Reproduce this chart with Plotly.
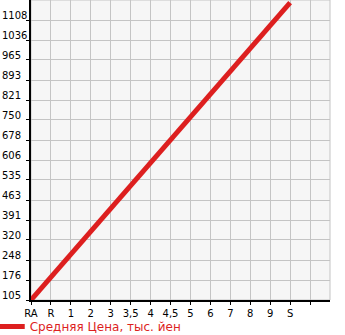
import plotly.graph_objects as go

categories = ["RA", "R", "1", "2", "3", "3,5", "4", "4,5", "5", "6", "7", "8", "9", "S", ""]
avg_price = [105, None, None, None, None, None, None, None, None, None, None, None, None, 1170, None]
y_tick_labels = ["105", "176", "248", "320", "391", "463", "535", "606", "678", "750",
                 "821", "893", "965", "1036", "1108"]
series_name = "Средняя Цена, тыс. йен"

y_tick_vals = [float(t) for t in y_tick_labels]
y_step = (y_tick_vals[-1] - y_tick_vals[0]) / (len(y_tick_vals) - 1)
x_idx = list(range(len(categories)))

fig = go.Figure()
fig.add_trace(go.Scatter(
    x=x_idx, y=avg_price, mode="lines", name=series_name,
    connectgaps=True, line=dict(color="#dd1f1f", width=5), showlegend=True,
))

font = dict(family="DejaVu Sans", size=10, color="#000000")

fig.update_layout(
    width=345, height=335,
    margin=dict(l=31, r=15, t=0, b=35, autoexpand=False),
    paper_bgcolor="#ffffff", plot_bgcolor="#f6f6f6",
    showlegend=True,
    legend=dict(orientation="h", x=-0.138, y=-0.04, xanchor="left", yanchor="top",
                font=dict(family="DejaVu Sans", size=12, color="#dd1f1f"),
                itemwidth=30, bgcolor="rgba(0,0,0,0)"),
    xaxis=dict(range=[0, len(categories)], tickvals=x_idx, ticktext=categories,
               showgrid=True, gridcolor="#c4c4c4", gridwidth=1,
               showline=True, linecolor="#000000", linewidth=2,
               ticks="outside", ticklen=3, tickcolor="#000000", tickfont=font,
               zeroline=False, fixedrange=True, automargin=False),
    yaxis=dict(range=[y_tick_vals[0], y_tick_vals[0] + y_step * len(y_tick_vals)],
               tickvals=y_tick_vals, ticktext=[""] * len(y_tick_vals),
               showgrid=True, gridcolor="#c4c4c4", gridwidth=1,
               showline=True, linecolor="#000000", linewidth=2,
               ticks="outside", ticklen=3, tickcolor="#000000",
               zeroline=False, fixedrange=True, automargin=False),
    shapes=[dict(type="rect", xref="paper", yref="paper", x0=0, x1=1, y0=0, y1=1,
                 line=dict(color="#c4c4c4", width=1), layer="below")],
)

for v, t in zip(y_tick_vals, y_tick_labels):
    fig.add_annotation(x=0, xref="paper", xshift=-31, y=v, yref="y", yshift=-3, text=t,
                       showarrow=False, xanchor="left", yanchor="bottom", font=font)

fig.write_html("out.html")
